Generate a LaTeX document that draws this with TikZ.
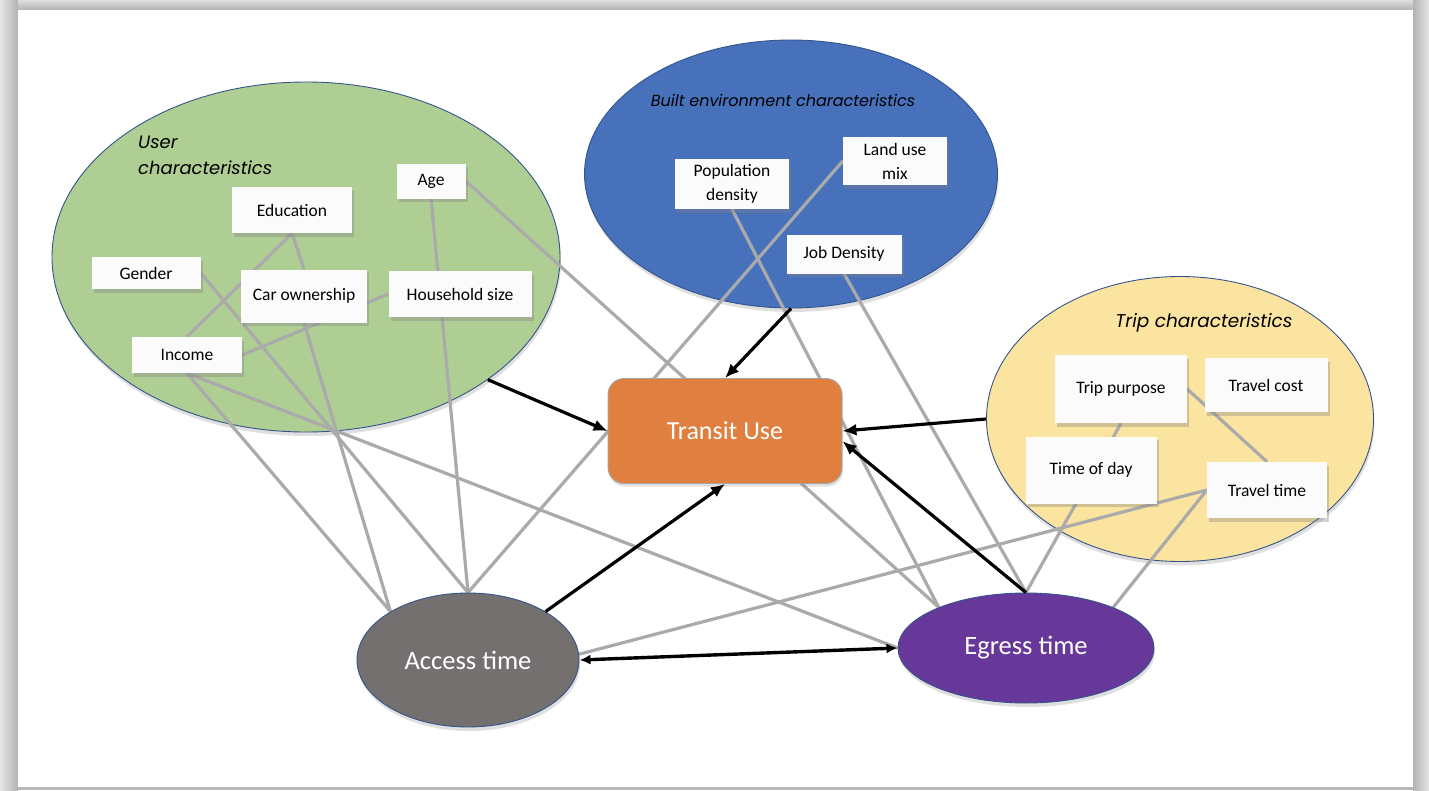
\documentclass[tikz,border=0pt]{standalone}
\usepackage{fontspec}
\setmainfont{Carlito}
\newfontfamily\titlefont{Poppins}
\usetikzlibrary{positioning,arrows.meta,shadows,shapes.geometric}
\pgfdeclarelayer{back}
\pgfdeclarelayer{links}
\pgfsetlayers{back,links,main}

\definecolor{usergreen}{RGB}{175,206,148}
\definecolor{builtblue}{RGB}{72,113,188}
\definecolor{tripyellow}{RGB}{251,228,160}
\definecolor{transitorange}{RGB}{224,128,64}
\definecolor{accessgray}{RGB}{117,112,112}
\definecolor{egresspurple}{RGB}{103,56,153}
\definecolor{rimblue}{RGB}{52,84,140}
\definecolor{linkgray}{RGB}{170,170,170}
\definecolor{boxwhite}{RGB}{251,251,251}

\tikzset{
  groupell/.style={ellipse, draw=rimblue, line width=0.9pt, inner sep=0pt, drop shadow={shadow xshift=1pt, shadow yshift=-4pt, opacity=0.25}},
  outcomeell/.style={ellipse, draw=rimblue, line width=0.9pt, inner sep=0pt, text=white, font=\fontsize{26.5}{30}\selectfont, drop shadow={shadow xshift=1pt, shadow yshift=-4pt, opacity=0.25}},
  varbox/.style={fill=boxwhite, inner sep=0pt, align=center, font=\fontsize{17.5}{24}\selectfont, drop shadow={shadow xshift=2pt, shadow yshift=-3.5pt, opacity=0.35}},
  grouptitle/.style={font=\titlefont\itshape\fontsize{18}{26}\selectfont, align=left, inner sep=0pt},
  link/.style={draw=linkgray, line width=3.2pt},
  effect/.style={-{Latex[length=14pt,width=12pt]}, line width=3.2pt},
  bothways/.style={{Latex[length=11pt,width=10pt]}-{Latex[length=11pt,width=10pt]}, line width=3.4pt}
}

\begin{document}
\begin{tikzpicture}[x=1pt, y=-1pt, >=Latex]
  \useasboundingbox (0,0) rectangle (1429,790);
  % frame
  \begin{pgfonlayer}{back}
    \fill[gray!55] (0,0) rectangle (1429,790);
    \shade[left color=gray!20, right color=gray!60] (0,0) rectangle (18,790);
    \shade[left color=gray!60, right color=gray!20] (1413,0) rectangle (1429,790);
    \shade[top color=gray!25, bottom color=gray!60] (18,0) rectangle (1413,10);
    \fill[white] (18,10) rectangle (1413,787);
    % groups
    \node[groupell, fill=usergreen, minimum width=508pt, minimum height=350pt] (user) at (306,257) {};
    \node[groupell, fill=builtblue, minimum width=413pt, minimum height=268pt] (built) at (791,174) {};
    \node[groupell, fill=tripyellow, minimum width=387pt, minimum height=285pt] (trip) at (1180,419) {};
  \end{pgfonlayer}

  \node[grouptitle, anchor=west] (usertitle) at (138,155) {User\\characteristics};
  \node[grouptitle, font=\titlefont\itshape\fontsize{16}{20}\selectfont] (builttitle) at (783,100) {Built environment characteristics};
  \node[grouptitle, font=\titlefont\itshape\fontsize{18.5}{26}\selectfont] (triptitle) at (1204,323) {Trip characteristics};

  % user characteristics
  \node[varbox, minimum width=120pt, minimum height=46pt] (edu) at (292,210) {Education};
  \node[varbox, minimum width=69pt, minimum height=35pt] (age) at (431,181) {Age};
  \node[varbox, minimum width=109pt, minimum height=32pt] (gender) at (146,273) {Gender};
  \node[varbox, minimum width=126pt, minimum height=53pt] (car) at (304,296) {Car ownership};
  \node[varbox, minimum width=143pt, minimum height=46pt] (hh) at (460,294) {Household size};
  \node[varbox, minimum width=110pt, minimum height=36pt] (income) at (187,355) {Income};
  % built environment
  \node[varbox, minimum width=114pt, minimum height=50pt] (pop) at (732,184) {Population\\density};
  \node[varbox, minimum width=104pt, minimum height=48pt] (landuse) at (895,161) {Land use\\mix};
  \node[varbox, minimum width=115pt, minimum height=39pt] (job) at (844,254) {Job Density};
  % trip characteristics
  \node[varbox, minimum width=132pt, minimum height=68pt] (purpose) at (1121,389) {Trip purpose};
  \node[varbox, minimum width=123pt, minimum height=54pt] (cost) at (1266,385) {Travel cost};
  \node[varbox, minimum width=131pt, minimum height=67pt] (tod) at (1091,470) {Time of day};
  \node[varbox, minimum width=120pt, minimum height=56pt] (ttime) at (1267,490) {Travel time};

  % outcomes
  \node[draw=gray!70, line width=0.9pt, fill=transitorange, rounded corners=16pt, minimum width=234pt, minimum height=105pt, text=white, font=\fontsize{26}{30}\selectfont, drop shadow={shadow xshift=1pt, shadow yshift=-3pt, opacity=0.25}] (transit) at (725,431) {Transit Use};
  \node[outcomeell, fill=accessgray, minimum width=222pt, minimum height=134pt] (access) at (468,660) {Access time};
  \node[outcomeell, fill=egresspurple, minimum width=256pt, minimum height=110pt] (egress) at (1026,648) {Egress time};

  % grey links
  \begin{pgfonlayer}{links}
    \draw[link] (edu.south) -- (income.north);
    \draw[link] (edu.south) -- (car.north);
    \draw[link] (gender.east) -- (access.north);
    \draw[link] (car.south) -- (access.148);
    \draw[link] (income.south) -- (access.148);
    \draw[link] (income.south) -- (egress.west);
    \draw[link] (income.east) -- (hh.west);
    \draw[link] (age.south) -- (access.north);
    \draw[link] (age.east) -- (egress.155);
    \draw[link] (landuse.west) -- (access.north);
    \draw[link] (pop.south) -- (egress.155);
    \draw[link] (job.south) -- (egress.north);
    \draw[link] (purpose.south) -- (egress.north);
    \draw[link] (purpose.east) -- (ttime.north);
    \draw[link] (ttime.west) -- (access.3);
    \draw[link] (ttime.west) -- (egress.25);
  \end{pgfonlayer}

  % effects on transit use
  \draw[effect] (user.-34) -- (transit.west);
  \draw[effect] (built.south) -- (transit.north);
  \draw[effect] (trip.west) -- (transit.east);
  \draw[effect] (access.32) -- (transit.south);
  \draw[effect] (egress.north) -- (transit.-5);
  \draw[bothways] (access.east) -- (egress.west);
\end{tikzpicture}
\end{document}
